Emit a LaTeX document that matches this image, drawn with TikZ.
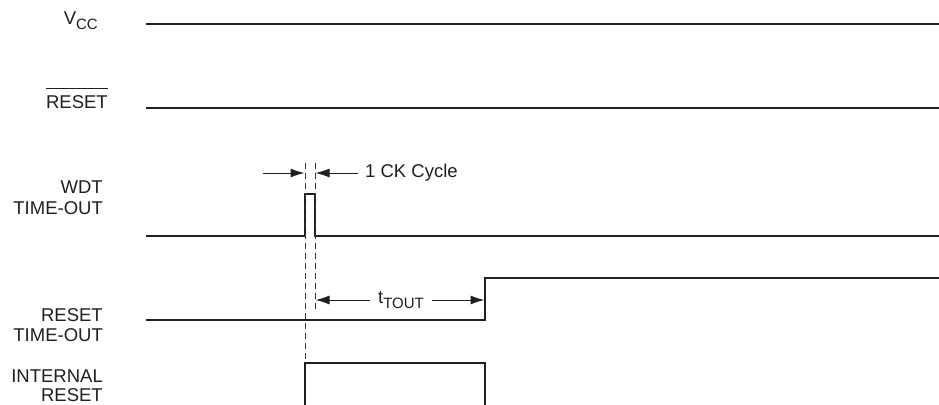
\documentclass[tikz,border=0pt]{standalone}
\usepackage{fontspec}
\setmainfont{Liberation Sans}
\usetikzlibrary{arrows.meta}
\newcommand{\mysub}[1]{\raisebox{-5pt}{\fontsize{15}{15}\selectfont #1}}
\begin{document}
\begin{tikzpicture}[x=1pt,y=-1pt,
 sig/.style={line width=2.3pt, line join=miter, color=black!88},
 guide/.style={line width=0.9pt, dash pattern=on 6pt off 4pt, color=black!80},
 dim/.style={line width=1pt, color=black!88, -{Latex[length=14pt,width=9pt]}},
 lbl/.style={inner sep=0pt, anchor=base east, text=black!88, font=\fontsize{18.5}{20}\selectfont},
 txt/.style={inner sep=0pt, anchor=base west, text=black!88, font=\fontsize{18.5}{20}\selectfont}]
\useasboundingbox (0,0) rectangle (939,404);
% labels
\node[lbl] (vcc) at (98,25) {V\mysub{CC}};
\node[lbl] (rst) at (108,108) {RESET};
\draw[line width=1pt, black!88] (rst.north west |- 0,88) -- (rst.north east |- 0,88);
\node[lbl] (wdt1) at (103,193) {WDT};
\node[lbl] (wdt2) at (103,214) {TIME-OUT};
\node[lbl] (rto1) at (103,321) {RESET};
\node[lbl] (rto2) at (103,341) {TIME-OUT};
\node[lbl] (ir1) at (103,382) {INTERNAL};
\node[lbl] (ir2) at (103,401) {RESET};
% signals
\draw[sig] (146,24) -- (939,24);
\draw[sig] (146,108) -- (939,108);
\draw[sig] (146,236) -- (305,236) -- (305,194) -- (315,194) -- (315,236) -- (939,236);
\draw[sig] (146,320) -- (485,320) -- (485,278) -- (939,278);
\draw[sig] (305,405) -- (305,363) -- (485,363) -- (485,405);
% guides
\draw[guide] (305,163) -- (305,363);
\draw[guide] (315,163) -- (315,309);
% 1 CK cycle
\coordinate (ckL) at (263,173);
\coordinate (ckLt) at (304.5,173);
\coordinate (ckR) at (358,173);
\coordinate (ckRt) at (315.5,173);
\draw[dim] (ckL) -- (ckLt);
\draw[dim] (ckR) -- (ckRt);
\node[txt] (ck) at (365,177) {1 CK Cycle};
% tTOUT
\node[txt] (tout) at (378,303) {t\mysub{TOUT}};
\coordinate (tl) at (370,300);
\coordinate (tlt) at (315.5,300);
\coordinate (tr) at (432,300);
\coordinate (trt) at (484.5,300);
\draw[dim] (tl) -- (tlt);
\draw[dim] (tr) -- (trt);
\end{tikzpicture}
\end{document}
